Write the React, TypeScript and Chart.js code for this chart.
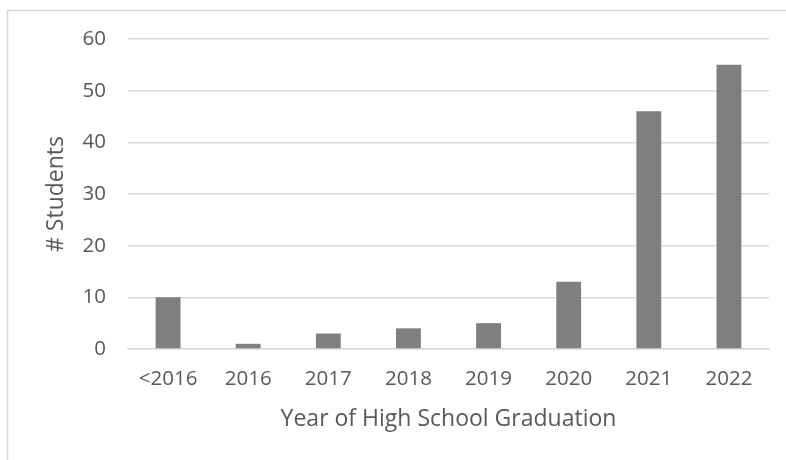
import React, { useEffect, useRef } from "react";
import { Chart, registerables } from "chart.js";

Chart.register(...registerables);

const categories = ["<2016", "2016", "2017", "2018", "2019", "2020", "2021", "2022"];
const students = [10, 1, 3, 4, 5, 13, 46, 55];
const yTicks = [0, 10, 20, 30, 40, 50, 60];

const FONT = "'Open Sans', 'Noto Sans', sans-serif";
const TEXT = "#595959";

const frame = {
  id: "frame",
  beforeDraw(chart: any) {
    const ctx = chart.ctx;
    ctx.save();
    ctx.fillStyle = "#ffffff";
    ctx.fillRect(0, 0, chart.width, chart.height);
    ctx.strokeStyle = "#d9d9d9";
    ctx.lineWidth = 1.5;
    ctx.beginPath();
    ctx.moveTo(7.5, chart.height);
    ctx.lineTo(7.5, 10.5);
    ctx.lineTo(chart.width, 10.5);
    ctx.stroke();
    ctx.restore();
  },
};

export default function App() {
  const ref = useRef<HTMLCanvasElement>(null);
  useEffect(() => {
    if (!ref.current) return;
    const chart = new Chart(ref.current, {
      type: "bar",
      data: {
        labels: categories,
        datasets: [
          {
            label: "# Students",
            data: students,
            backgroundColor: "#7f7f7f",
            borderWidth: 0,
            categoryPercentage: 1,
            barPercentage: 0.31,
          },
        ],
      },
      options: {
        responsive: false,
        animation: false,
        layout: { padding: { top: 39, right: 17, bottom: 0, left: 0 } },
        plugins: { legend: { display: false }, tooltip: { enabled: false } },
        scales: {
          x: {
            grid: { display: false, drawTicks: false },
            border: { display: true, color: "#d9d9d9", width: 1.5 },
            ticks: { color: TEXT, font: { family: FONT, size: 20.5 }, padding: 18 },
            title: {
              display: true,
              text: "Year of High School Graduation",
              color: TEXT,
              font: { family: FONT, size: 23 },
              padding: { top: 0, bottom: 27 },
            },
            afterFit: (s: any) => {
              s.height = 111;
            },
          },
          y: {
            min: 0,
            max: 60,
            afterBuildTicks: (s: any) => {
              s.ticks = yTicks.map((v) => ({ value: v }));
            },
            grid: { color: "#d9d9d9", lineWidth: 1.5, drawTicks: false },
            border: { display: false },
            ticks: { color: TEXT, font: { family: FONT, size: 20.5 }, padding: 22 },
            title: {
              display: true,
              text: "# Students",
              color: TEXT,
              font: { family: FONT, size: 23 },
              padding: { top: 43, bottom: 0 },
            },
            afterFit: (s: any) => {
              s.width = 128;
            },
          },
        },
      },
      plugins: [frame],
    });
    return () => chart.destroy();
  }, []);
  return (
    <div style={{ position: "fixed", left: 0, top: 0, width: 786, height: 460, background: "#fff" }}>
      <canvas ref={ref} width={786} height={460} style={{ display: "block" }} />
    </div>
  );
}
